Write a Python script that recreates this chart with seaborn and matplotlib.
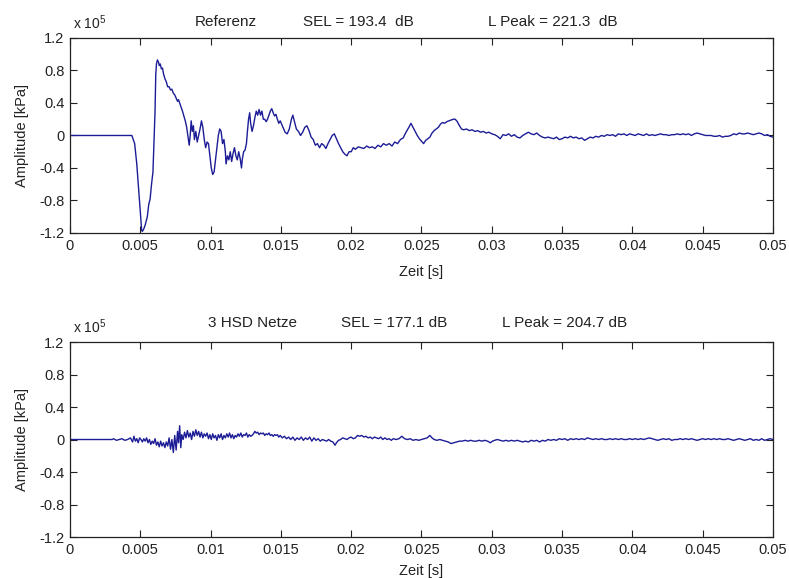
import numpy as np
import pandas as pd
import matplotlib
matplotlib.use("Agg")
import matplotlib.pyplot as plt
import seaborn as sns

# Zeitachse in ms, Amplitude in 1e5 kPa
t_ref_ms = [0, 4.4, 4.6, 4.75, 4.9, 5.0, 5.1, 5.15, 5.25, 5.35, 5.5, 5.6, 5.7, 5.8, 5.9, 5.95,
            6.0, 6.05, 6.1, 6.15, 6.22, 6.3, 6.35, 6.42, 6.5, 6.58, 6.65, 6.75, 6.85, 6.95,
            7.05, 7.15, 7.25, 7.35, 7.45, 7.55, 7.65, 7.72, 7.8, 7.9, 8.0, 8.1, 8.2, 8.3, 8.4,
            8.48, 8.55, 8.62, 8.7, 8.78, 8.85, 8.95, 9.05, 9.15, 9.25, 9.35, 9.45, 9.55, 9.65,
            9.75, 9.85, 9.95, 10.05, 10.15, 10.25, 10.35, 10.45, 10.55, 10.65, 10.75, 10.85,
            10.95, 11.05, 11.1, 11.2, 11.3, 11.4, 11.5, 11.6, 11.7, 11.8, 11.9, 12.0, 12.1,
            12.2, 12.25, 12.35, 12.45, 12.55, 12.62, 12.7, 12.78, 12.85, 12.95, 13.05, 13.15,
            13.25, 13.35, 13.45, 13.55, 13.65, 13.75, 13.85, 13.95, 14.05, 14.15, 14.25, 14.35,
            14.45, 14.55, 14.65, 14.75, 14.85, 14.95, 15.05, 15.15, 15.3, 15.45, 15.6, 15.75,
            15.85, 15.95, 16.1, 16.25, 16.4, 16.55, 16.7, 16.85, 17.0, 17.15, 17.3, 17.45,
            17.6, 17.75, 17.9, 18.05, 18.2, 18.35, 18.5, 18.65, 18.8, 18.95, 19.1, 19.25,
            19.4, 19.55, 19.7, 19.85, 20.0, 20.15, 20.3, 20.5, 20.7, 20.9, 21.1, 21.3, 21.5,
            21.7, 21.9, 22.1, 22.3, 22.5, 22.7, 22.9, 23.1, 23.3, 23.5, 23.7, 23.9, 24.1,
            24.25, 24.4, 24.55, 24.7, 24.85, 25.0, 25.15, 25.3, 25.45, 25.6, 25.75, 25.9,
            26.05, 26.2, 26.35, 26.5, 26.65, 26.8, 26.95, 27.1, 27.25, 27.4, 27.55, 27.7,
            27.85, 28.0, 28.2, 28.4, 28.6, 28.8, 29.0, 29.2, 29.4, 29.6, 29.8, 30.0, 30.2,
            30.4, 30.6, 30.8, 31.0, 31.2, 31.4, 31.6, 31.8, 32.0, 32.2, 32.4, 32.6, 32.8,
            33.0, 33.2, 33.4, 33.6, 33.8, 34.0, 34.2, 34.4, 34.6, 34.8, 35.0, 35.2, 35.4,
            35.6, 35.8, 36.0, 36.2, 36.4, 36.6, 36.8, 37.0, 37.2, 37.4, 37.6, 37.8, 38.0,
            38.2, 38.4, 38.6, 38.8, 39.0, 39.2, 39.4, 39.6, 39.8, 40.0, 40.2, 40.4, 40.6,
            40.8, 41.0, 41.2, 41.4, 41.6, 41.8, 42.0, 42.2, 42.4, 42.6, 42.8, 43.0, 43.2,
            43.4, 43.6, 43.8, 44.0, 44.2, 44.4, 44.6, 44.8, 45.0, 45.2, 45.4, 45.6, 45.8,
            46.0, 46.2, 46.4, 46.6, 46.8, 47.0, 47.2, 47.4, 47.6, 47.8, 48.0, 48.2, 48.4,
            48.6, 48.8, 49.0, 49.2, 49.4, 49.6, 49.8, 50.0]
amp_ref = [0, 0, -0.1, -0.35, -0.7, -0.95, -1.17, -1.18, -1.15, -1.1, -1.0, -0.85, -0.78, -0.6,
           -0.45, -0.2, 0.05, 0.3, 0.75, 0.88, 0.93, 0.9, 0.86, 0.88, 0.82, 0.83, 0.76, 0.7,
           0.66, 0.6, 0.6, 0.56, 0.57, 0.52, 0.5, 0.46, 0.42, 0.44, 0.4, 0.35, 0.3, 0.24, 0.18,
           0.1, -0.02, -0.12, 0.0, 0.18, 0.05, 0.12, -0.05, 0.05, -0.08, 0.0, 0.08, 0.18, 0.1,
           -0.05, -0.15, -0.08, -0.1, -0.25, -0.4, -0.48, -0.45, -0.3, -0.15, 0.0, 0.08, 0.05,
           -0.1, -0.05, -0.2, -0.35, -0.25, -0.3, -0.2, -0.32, -0.22, -0.15, -0.25, -0.3, -0.2,
           -0.28, -0.4, -0.3, -0.2, -0.18, -0.1, 0.05, 0.2, 0.28, 0.15, 0.05, 0.12, 0.22, 0.3,
           0.25, 0.32, 0.25, 0.3, 0.2, 0.2, 0.17, 0.2, 0.25, 0.3, 0.33, 0.28, 0.24, 0.26, 0.2,
           0.15, 0.18, 0.14, 0.1, 0.04, 0.02, 0.08, 0.2, 0.25, 0.18, 0.08, 0.05, 0.0, 0.04,
           0.1, 0.12, 0.06, -0.02, -0.05, -0.12, -0.1, -0.15, -0.1, -0.12, -0.16, -0.1, -0.05,
           0.0, 0.02, -0.04, -0.1, -0.15, -0.2, -0.23, -0.25, -0.2, -0.2, -0.15, -0.17, -0.14,
           -0.15, -0.16, -0.13, -0.15, -0.14, -0.16, -0.12, -0.14, -0.1, -0.12, -0.1, -0.13,
           -0.08, -0.1, -0.05, -0.03, 0.04, 0.1, 0.15, 0.1, 0.05, 0.0, -0.04, -0.07, -0.1,
           -0.06, -0.04, -0.02, 0.03, 0.06, 0.08, 0.1, 0.14, 0.16, 0.15, 0.17, 0.18, 0.19,
           0.2, 0.2, 0.17, 0.12, 0.08, 0.07, 0.08, 0.06, 0.07, 0.05, 0.06, 0.04, 0.05, 0.03,
           0.04, 0.02, 0.01, -0.01, -0.04, 0.01, 0.0, 0.02, -0.01, 0.01, -0.02, -0.03, 0.0,
           0.02, 0.04, 0.02, 0.01, 0.03, 0.0, -0.02, -0.03, -0.02, -0.03, -0.04, -0.02, -0.05,
           -0.04, -0.02, -0.03, -0.01, -0.03, -0.02, -0.04, -0.03, -0.06, -0.04, -0.02, -0.03,
           -0.01, -0.02, 0.0, -0.01, 0.01, 0.0, 0.01, -0.01, 0.02, 0.01, 0.02, 0.0, 0.02, 0.01,
           0.0, 0.02, 0.01, 0.0, 0.02, 0.0, 0.01, 0.0, 0.01, 0.02, 0.01, 0.01, 0.0, 0.01, 0.01,
           0.02, 0.01, 0.02, 0.01, 0.02, 0.0, 0.02, 0.03, 0.02, 0.01, 0.0, 0.0, 0.0, -0.01,
           -0.01, 0.0, -0.02, -0.01, -0.01, 0.0, 0.02, 0.01, 0.03, 0.02, 0.02, 0.03, 0.02,
           0.01, 0.02, 0.03, 0.02, 0.0, 0.01, -0.01, -0.02]

t_hsd_ms = [0, 3.0, 3.1, 3.3, 3.5, 3.7, 3.9, 4.1, 4.3, 4.45, 4.55, 4.65, 4.75, 4.85, 4.95, 5.05,
            5.15, 5.25, 5.35, 5.45, 5.55, 5.65, 5.75, 5.85, 5.95, 6.05, 6.15, 6.25, 6.35, 6.45,
            6.55, 6.65, 6.75, 6.85, 6.95, 7.05, 7.15, 7.25, 7.35, 7.45, 7.55, 7.65, 7.72, 7.8,
            7.88, 7.95, 8.05, 8.15, 8.25, 8.35, 8.45, 8.55, 8.65, 8.75, 8.85, 8.95, 9.05, 9.15,
            9.25, 9.35, 9.45, 9.55, 9.65, 9.75, 9.85, 9.95, 10.05, 10.15, 10.25, 10.35, 10.45,
            10.55, 10.65, 10.75, 10.85, 10.95, 11.05, 11.15, 11.25, 11.35, 11.45, 11.55, 11.65,
            11.75, 11.85, 11.95, 12.05, 12.15, 12.25, 12.35, 12.45, 12.55, 12.65, 12.75, 12.85,
            12.95, 13.05, 13.15, 13.25, 13.35, 13.45, 13.55, 13.65, 13.75, 13.85, 13.95, 14.05,
            14.15, 14.25, 14.35, 14.45, 14.55, 14.65, 14.75, 14.85, 14.95, 15.1, 15.25, 15.4,
            15.55, 15.7, 15.85, 16.0, 16.15, 16.3, 16.45, 16.6, 16.75, 16.9, 17.05, 17.2,
            17.35, 17.5, 17.65, 17.8, 17.95, 18.1, 18.25, 18.4, 18.55, 18.7, 18.85, 18.95,
            19.1, 19.25, 19.4, 19.55, 19.7, 19.85, 20.0, 20.15, 20.3, 20.45, 20.6, 20.75,
            20.9, 21.05, 21.2, 21.35, 21.5, 21.65, 21.8, 21.95, 22.1, 22.25, 22.4, 22.55,
            22.7, 22.85, 23.0, 23.2, 23.4, 23.6, 23.8, 24.0, 24.2, 24.4, 24.6, 24.8, 25.0,
            25.2, 25.4, 25.6, 25.75, 25.9, 26.1, 26.3, 26.5, 26.7, 26.9, 27.1, 27.3, 27.5,
            27.7, 27.9, 28.1, 28.3, 28.5, 28.7, 28.9, 29.1, 29.3, 29.5, 29.7, 29.9, 30.05,
            30.2, 30.4, 30.6, 30.8, 31.0, 31.2, 31.4, 31.6, 31.8, 32.0, 32.2, 32.4, 32.6,
            32.8, 33.0, 33.2, 33.4, 33.6, 33.8, 34.0, 34.2, 34.4, 34.6, 34.8, 35.0, 35.2,
            35.4, 35.6, 35.8, 36.0, 36.2, 36.4, 36.6, 36.8, 37.0, 37.2, 37.4, 37.6, 37.8,
            38.0, 38.2, 38.4, 38.6, 38.8, 39.0, 39.2, 39.4, 39.6, 39.8, 40.0, 40.2, 40.4,
            40.6, 40.8, 41.0, 41.2, 41.4, 41.6, 41.8, 42.0, 42.2, 42.4, 42.6, 42.8, 43.0,
            43.2, 43.4, 43.6, 43.8, 44.0, 44.2, 44.4, 44.6, 44.8, 45.0, 45.2, 45.4, 45.6,
            45.8, 46.0, 46.2, 46.4, 46.6, 46.8, 47.0, 47.2, 47.4, 47.6, 47.8, 48.0, 48.2,
            48.4, 48.6, 48.8, 49.0, 49.2, 49.4, 49.6, 49.8, 50.0]
amp_hsd = [0, 0, 0.01, -0.01, 0.0, 0.01, -0.01, 0.0, 0.02, -0.03, 0.04, -0.02, 0.01, -0.04,
           0.02, 0.0, -0.03, 0.01, -0.02, 0.02, -0.04, 0.0, -0.06, -0.02, -0.05, 0.01, -0.07,
           -0.03, -0.09, -0.02, -0.08, -0.04, -0.1, -0.03, -0.08, 0.02, -0.12, 0.0, -0.16,
           0.05, -0.13, 0.1, -0.04, 0.17, -0.1, 0.06, 0.0, 0.09, 0.02, 0.11, 0.03, 0.08, 0.0,
           0.1, 0.04, 0.12, 0.05, 0.1, 0.03, 0.09, 0.02, 0.07, 0.04, 0.08, 0.01, 0.06, 0.0,
           0.07, 0.02, 0.05, -0.01, 0.06, 0.02, 0.07, 0.0, 0.05, 0.02, 0.07, 0.03, 0.08, 0.02,
           0.06, 0.01, 0.05, 0.03, 0.07, 0.04, 0.08, 0.03, 0.06, 0.05, 0.08, 0.03, 0.06, 0.04,
           0.05, 0.07, 0.1, 0.08, 0.09, 0.06, 0.08, 0.07, 0.08, 0.05, 0.07, 0.06, 0.08, 0.05,
           0.06, 0.04, 0.06, 0.05, 0.06, 0.03, 0.05, 0.02, 0.04, 0.01, 0.03, 0.0, 0.03, -0.01,
           0.02, 0.0, 0.03, -0.01, 0.02, 0.0, 0.03, -0.02, 0.02, -0.01, 0.01, -0.02, 0.0,
           -0.01, -0.02, 0.0, -0.02, -0.03, -0.07, -0.04, -0.01, 0.0, 0.02, 0.01, 0.0, 0.02,
           0.03, 0.01, 0.02, 0.05, 0.04, 0.05, 0.03, 0.04, 0.02, 0.03, 0.01, 0.03, 0.02, 0.01,
           0.03, 0.0, 0.02, 0.0, 0.01, -0.01, 0.01, 0.0, 0.01, 0.04, 0.01, 0.0, 0.01, -0.01,
           0.0, -0.01, 0.0, 0.01, 0.02, 0.05, 0.02, 0.0, -0.01, 0.0, -0.01, -0.02, -0.03,
           -0.05, -0.04, -0.03, -0.02, -0.02, -0.01, -0.02, -0.01, -0.02, -0.02, -0.01, -0.02,
           -0.01, -0.02, -0.04, -0.02, -0.01, 0.0, -0.01, -0.02, -0.01, -0.02, -0.01, -0.02,
           -0.01, -0.02, -0.03, -0.02, -0.03, -0.01, -0.02, -0.01, -0.03, -0.01, -0.02, 0.0,
           -0.01, 0.0, -0.01, 0.01, 0.0, 0.01, -0.01, 0.01, 0.0, 0.01, 0.0, 0.01, 0.0, 0.02,
           0.01, 0.0, 0.01, 0.0, 0.01, 0.0, 0.0, 0.01, 0.0, 0.01, 0.0, 0.01, 0.0, 0.0, 0.01,
           0.0, 0.01, 0.0, 0.01, 0.0, 0.01, 0.02, 0.01, 0.0, -0.01, 0.0, 0.01, 0.0, 0.01,
           -0.01, 0.0, 0.0, 0.01, 0.0, 0.01, 0.0, 0.01, 0.0, -0.01, 0.0, 0.01, 0.0, 0.01, 0.0,
           0.01, 0.0, 0.01, 0.0, 0.0, 0.01, 0.0, -0.01, 0.0, 0.01, 0.0, -0.01, 0.0, 0.01,
           -0.01, 0.0, -0.01, 0.01, -0.01, 0.0, 0.01, 0.0]

titles_ref = ["Referenz", "SEL = 193.4  dB", "L Peak = 221.3  dB"]
titles_hsd = ["3 HSD Netze", "SEL = 177.1 dB", "L Peak = 204.7 dB"]
x_ticks = [0, 0.005, 0.01, 0.015, 0.02, 0.025, 0.03, 0.035, 0.04, 0.045, 0.05]
x_labels = ["0", "0.005", "0.01", "0.015", "0.02", "0.025", "0.03", "0.035", "0.04", "0.045", "0.05"]
y_ticks = [-1.2, -0.8, -0.4, 0, 0.4, 0.8, 1.2]
y_labels = ["-1.2", "-0.8", "-0.4", "0", "0.4", "0.8", "1.2"]

sns.set_style("ticks")
plt.rcParams['font.family'] = ['Liberation Sans', 'DejaVu Sans']
plt.rcParams['mathtext.fontset'] = 'custom'
plt.rcParams['mathtext.rm'] = 'Liberation Sans'
textcol = '#222222'

fig = plt.figure(figsize=(7.89, 5.78), dpi=100)
ax1 = fig.add_axes([0.0887, 0.5969, 0.891, 0.3374])
ax2 = fig.add_axes([0.0887, 0.0709, 0.891, 0.3374])

panels = [
    (ax1, t_ref_ms, amp_ref, titles_ref, [0.222, 0.41, 0.687], 1.083, 9),
    (ax2, t_hsd_ms, amp_hsd, titles_hsd, [0.259, 0.461, 0.703], 1.097, 5),
]

for ax, t_ms, amp, titles, tx, ty, xpad in panels:
    df = pd.DataFrame({"t": np.array(t_ms) / 1000.0, "a": amp})
    sns.lineplot(data=df, x="t", y="a", ax=ax, color='#1c1c96', linewidth=1.0)
    ax.set_xlim(0, 0.05)
    ax.set_ylim(-1.2, 1.2)
    ax.set_xticks(x_ticks)
    ax.set_xticklabels(x_labels)
    ax.set_yticks(y_ticks)
    ax.set_yticklabels(y_labels)
    ax.tick_params(direction='in', top=True, right=True, length=5, width=0.8,
                   labelsize=10.5, colors=textcol, pad=4)
    ax.tick_params(axis='x', labeltop=False)
    for s in ax.spines.values():
        s.set_visible(True)
        s.set_linewidth(0.9)
        s.set_color('#222222')
    ax.set_xlabel("Zeit [s]", fontsize=10.5, color=textcol, labelpad=xpad)
    ax.set_ylabel("Amplitude [kPa]", fontsize=10.5, color=textcol, labelpad=7)
    for x, s in zip(tx, titles):
        ax.text(x, ty, s, transform=ax.transAxes, ha='center', va='center',
                fontsize=11, color=textcol)
    ax.text(0.004, 1.03, r"x 10$^5$", transform=ax.transAxes, ha='left', va='bottom',
            fontsize=10, color=textcol)

fig.savefig("out.png", dpi=100)
